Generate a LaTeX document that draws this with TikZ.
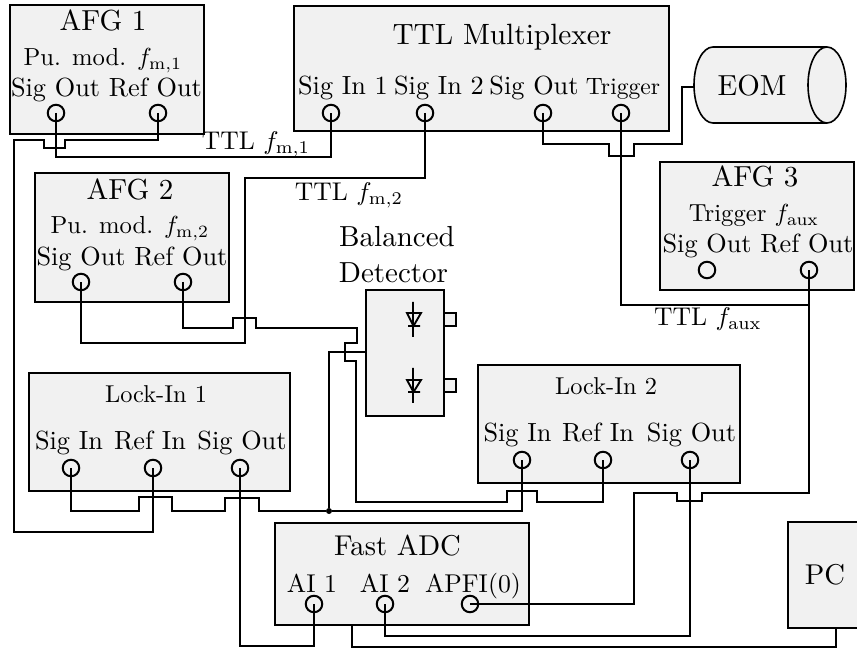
\documentclass[tikz,border=0pt]{standalone}
\usepackage{graphicx}
\tikzset{
  devbox/.style={draw=black,fill=black!5.5,line width=1.5pt,rectangle,inner sep=0pt,outer sep=0pt,anchor=north west},
  port/.style={draw=black,circle,line width=1.5pt,minimum size=12.4pt,inner sep=0pt,outer sep=0pt},
  wire/.style={draw=black,line width=1.5pt,line join=miter},
  txt/.style={inner sep=0pt,outer sep=0pt,anchor=base,text=black},
  junct/.style={circle,fill=black,minimum size=4.5pt,inner sep=0pt,outer sep=0pt}
}
\newcommand{\devnode}[6][]{\node[devbox,#1,minimum width={(#5-#3)*0.75pt},minimum height={(#6-#4)*0.75pt}] (#2) at (#3,#4) {};}
\newcommand{\lab}[5]{\node[txt] (#1) at (#2,#3) {\scalebox{\fpeval{#4/10}}{\fontsize{10}{12}\selectfont #5}};}
\begin{document}
\begin{tikzpicture}[x=0.75pt,y=-0.75pt]
\useasboundingbox (0,0) rectangle (857,648);
% boxes
\devnode{afgA}{10}{5}{204}{134}
\devnode[line width=2.1pt]{mux}{294}{6}{669}{131}
\devnode{afgB}{35}{173}{229}{302}
\devnode{afgC}{660}{162}{854}{290}
\devnode{lockA}{29}{373}{290}{491}
\devnode{lockB}{478}{365}{740}{483}
\devnode{det}{366}{290}{444}{416}
\devnode[line width=1.8pt]{adc}{275}{523}{529}{625}
\devnode[line width=1pt]{pc}{788}{522}{862}{628}
% EOM cylinder
\draw[draw=black,fill=black!5.5,line width=1.2pt] (713,47) -- (827,47) arc[start angle=-90,end angle=90,x radius=19,y radius=38] -- (713,123) arc[start angle=90,end angle=270,x radius=19,y radius=38] -- cycle;
\draw[line width=1.2pt,draw=black] (827,47) arc[start angle=270,end angle=90,x radius=19,y radius=38];
% detector outputs and diodes
\draw[draw=black,fill=black!5.5,line width=1.5pt] (444,313) rectangle (456,326);
\draw[draw=black,fill=black!5.5,line width=1.5pt] (444,379) rectangle (456,392);
\draw[line width=1.4pt] (413,302) -- (413,337) (408,326) -- (420,326) (407,313) -- (421,313) -- (413.5,326) -- cycle;
\draw[line width=1.4pt] (413,368) -- (413,403) (408,392) -- (420,392) (407,380) -- (421,380) -- (413.5,392) -- cycle;
% labels
\lab{tA}{103}{31}{21.75}{AFG 1}
\lab{tAb}{103}{66}{18.5}{Pu. mod. $f_{\mathrm{m},1}$}
\lab{tAc}{106.5}{97}{19.7}{Sig Out Ref Out}
\lab{tM}{502}{45}{22}{TTL Multiplexer}
\lab{tMa}{343}{95}{19.7}{Sig In 1}
\lab{tMb}{439}{95}{19.7}{Sig In 2}
\lab{tMc}{534}{95}{19.7}{Sig Out}
\lab{tMd}{623}{95}{17.7}{Trigger}
\lab{tE}{752}{96}{21.75}{EOM}
\lab{tB}{130}{200}{21.75}{AFG 2}
\lab{tBb}{130}{234}{18.5}{Pu. mod. $f_{\mathrm{m},2}$}
\lab{tBc}{132}{265.5}{19.7}{Sig Out Ref Out}
\lab{tC}{755}{187}{21.75}{AFG 3}
\lab{tCb}{754}{222}{18.5}{Trigger $f_{\mathrm{aux}}$}
\lab{tCc}{758}{253}{19.7}{Sig Out Ref Out}
\lab{tLa}{156}{403}{18.3}{Lock-In 1}
\lab{tLb}{69}{450}{19.7}{Sig In}
\lab{tLc}{150}{450}{19.7}{Ref In}
\lab{tLd}{242}{450}{19.7}{Sig Out}
\lab{tKa}{606}{395}{18.3}{Lock-In 2}
\lab{tKb}{517.5}{442}{19.7}{Sig In}
\lab{tKc}{598}{442}{19.7}{Ref In}
\lab{tKd}{691.5}{442}{19.7}{Sig Out}
\lab{tDa}{397}{247}{21.75}{Balanced}
\lab{tDb}{393.5}{283}{21.75}{Detector}
\lab{tF}{397.5}{555}{21.5}{Fast ADC}
\lab{tFa}{312}{592}{19.3}{AI 1}
\lab{tFb}{385}{592}{19.3}{AI 2}
\lab{tFc}{473}{592}{19.3}{APFI(0)}
\lab{tP}{825}{584}{21.5}{PC}
\lab{tTa}{256}{150}{19.2}{TTL $f_{\mathrm{m},1}$}
\lab{tTb}{349}{201}{19.2}{TTL $f_{\mathrm{m},2}$}
\lab{tTc}{708}{326}{19.2}{TTL $f_{\mathrm{aux}}$}
% ports
\node[port] (a1s) at (56,113) {};
\node[port] (a1r) at (158,113) {};
\node[port] (m1) at (331,113) {};
\node[port] (m2) at (425,113) {};
\node[port] (m3) at (543,113) {};
\node[port] (m4) at (621,113) {};
\node[port] (a2s) at (81,282) {};
\node[port] (a2r) at (183,282) {};
\node[port] (a3s) at (707,270) {};
\node[port] (a3r) at (809,270) {};
\node[port] (l1a) at (71,468) {};
\node[port] (l1b) at (153,468) {};
\node[port] (l1c) at (240,468) {};
\node[port] (l2a) at (522,460) {};
\node[port] (l2b) at (603,460) {};
\node[port] (l2c) at (690,460) {};
\node[port] (f1) at (314,604) {};
\node[port] (f2) at (385,604) {};
\node[port] (f3) at (470,604) {};
\node[junct] (j) at (329,511) {};
\coordinate (eomL) at (694,87);
\coordinate (detO) at (366,352);
\coordinate (pcB) at (836,628);
\coordinate (adcB) at (352,625);
% wires
\draw[wire] (a1s.center) -- (56,157) -- (331,157) -- (m1.center);
\draw[wire] (a1r.center) -- (158,140) -- (65,140) -- (65,148) -- (44,148) -- (44,140) -- (14,140) -- (14,532) -- (153,532) -- (l1b.center);
\draw[wire] (m2.center) -- (425,178) -- (245,178) -- (245,343) -- (81,343) -- (a2s.center);
\draw[wire] (a2r.center) -- (183,328) -- (233,328) -- (233,318) -- (256,318) -- (256,328) -- (357,328) -- (357,343) -- (345,343) -- (345,361) -- (356,361) -- (356,502) -- (507,502) -- (507,491) -- (537,491) -- (537,502) -- (603,502) -- (l2b.center);
\draw[wire] (detO) -- (329,352) -- (j);
\draw[wire] (l1a.center) -- (71,511) -- (139,511) -- (139,497) -- (172,497) -- (172,511) -- (225,511) -- (225,498) -- (259,498) -- (259,511) -- (j);
\draw[wire] (j) -- (522,511) -- (l2a.center);
\draw[wire] (l1c.center) -- (240,646) -- (314,646) -- (f1.center);
\draw[wire] (f2.center) -- (385,636) -- (690,636) -- (l2c.center);
\draw[wire] (f3.center) -- (634,604) -- (634,493) -- (677,493) -- (677,501) -- (702,501) -- (702,493) -- (809,493) -- (a3r.center);
\draw[wire] (m4.center) -- (621,305) -- (809,305);
\draw[wire] (m3.center) -- (543,144) -- (609,144) -- (609,156) -- (634,156) -- (634,144) -- (682,144) -- (682,87) -- (eomL);
\draw[wire] (adcB) -- (352,647) -- (836,647) -- (pcB);
\end{tikzpicture}
\end{document}
